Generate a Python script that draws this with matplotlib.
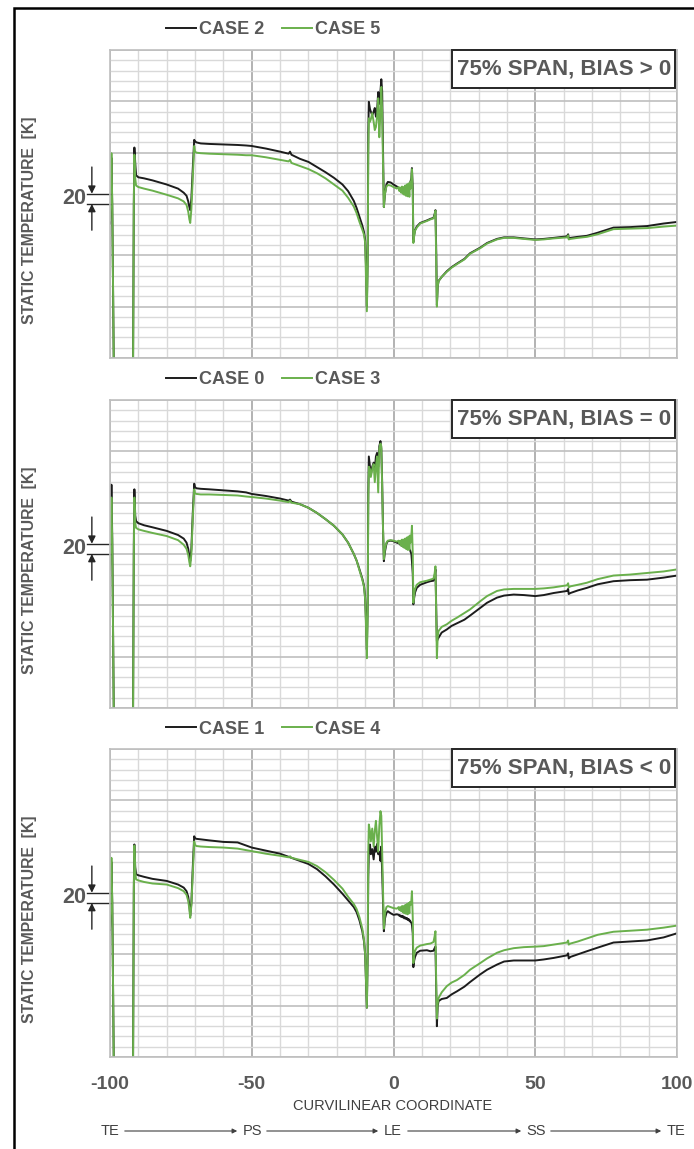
import matplotlib
matplotlib.use('Agg')
import matplotlib.pyplot as plt
from matplotlib.patches import Rectangle, FancyArrowPatch
from matplotlib.ticker import MultipleLocator

plt.rcParams['font.family'] = ['Liberation Sans', 'DejaVu Sans']

# curvilinear coordinate along the blade section (TE -> PS -> LE -> SS -> TE)
coord = [
    -100, -99.7, -99.5, -99.2, -98.6,
    -91.9, -91.6, -91.4, -91.1, -90.8, -90, -88, -85, -80, -76, -74, -73, -72.4,
    -72, -71.7, -71.3, -70.8, -70.3, -70, -69.5, -68,
    -65, -60, -55, -52, -50, -45, -40, -37, -36.5, -36, -33, -30,
    -27, -24, -21, -18, -16, -14, -13, -12, -11, -10.4, -10, -9.7, -9.4, -9.1,
    -8.9, -8.7, -8.3, -8.0, -7.5, -7.0, -6.6, -6.2, -5.8, -5.4, -5.0, -4.6, -4.3, -4.0,
    -3.7, -3.4, -3.0, -2.5, -2.0, -1.0, 0, 1.2, 1.8, 2.1, 2.4, 2.7, 3.0,
    3.3, 3.5, 3.8, 4.1, 4.4, 4.7, 5.0, 5.3, 5.6, 5.8, 6.0, 6.3, 6.5,
    6.8, 7.0, 7.3, 7.6, 8.2, 9.4, 11.8, 13, 14.1, 14.5, 14.8, 15.1,
    15.3, 15.6, 15.9, 17, 18.8, 20.5, 22.4, 25, 27, 30.6, 33, 36.5,
    39, 42.4, 46, 50, 53, 56.5, 61.2, 61.6, 61.8, 62.4, 65, 68.2,
    72, 77.6, 83.5, 89.4, 95.3, 100,
]

# static temperature, relative units (one minor division = 20 K)
case2 = [
    262, 320, 390, 295, -50,
    -50, 300, 410, 380, 356, 352, 350, 346, 338, 330, 322, 316, 305,
    294, 288, 310, 370, 425, 422, 420, 418,
    417, 416, 415, 414, 413, 408, 402, 398, 402, 396, 388, 382,
    372, 362, 351, 338, 325, 306, 292, 275, 258, 245, 230, 180, 100, 200,
    440, 499, 485, 480, 473, 480, 487, 470, 480, 518, 495, 520, 543, 520,
    400, 294, 320, 338, 343, 342, 338, 334, 332, 331, 331, 330, 330,
    331, 331, 332, 333, 334, 333, 335, 336, 338, 340, 344, 350, 370,
    330, 226, 240, 249, 256, 263, 268, 271, 273, 280, 288, 200,
    103, 140, 150, 158, 169, 177, 184, 193, 204, 215, 224, 232,
    235, 235, 233, 231, 232, 234, 237, 241, 233, 234, 236, 238,
    244, 254, 255, 257, 262, 265,
]
case5 = [
    268, 330, 399, 300, -50,
    -50, 300, 396, 350, 336, 333, 330, 326, 318, 311, 305, 298, 285,
    270, 263, 290, 350, 413, 402, 400, 399,
    398, 397, 396, 395, 395, 391, 386, 383, 386, 380, 374, 368,
    360, 350, 338, 326, 312, 295, 282, 265, 250, 240, 225, 160, 91, 180,
    400, 467, 460, 465, 477, 460, 444, 450, 470, 506, 430, 480, 528, 480,
    380, 294, 320, 334, 337, 336, 333, 330, 333, 325, 332, 322, 334,
    320, 333, 318, 336, 316, 338, 315, 340, 314, 342, 330, 350, 368,
    320, 224, 238, 248, 254, 262, 267, 270, 272, 278, 287, 180,
    100, 140, 150, 158, 168, 176, 183, 192, 203, 214, 223, 231,
    234, 234, 232, 230, 231, 233, 235, 239, 231, 232, 234, 236,
    241, 251, 252, 253, 256, 258,
]
case0 = [
    273, 360, 435, 330, -50,
    -50, 320, 426, 375, 364, 360, 356, 352, 345, 337, 330, 322, 310,
    295, 286, 310, 380, 437, 430, 428, 427,
    426, 424, 422, 420, 417, 413, 408, 404, 406, 402, 397, 390,
    380, 368, 355, 338, 322, 300, 287, 270, 252, 238, 215, 170, 114, 200,
    420, 490, 470, 455, 470, 478, 465, 490, 497, 470, 510, 520, 505, 440,
    350, 286, 305, 320, 325, 326, 325, 322, 321, 320, 318, 317, 316,
    315, 315, 314, 313, 312, 312, 311, 310, 309, 308, 305, 300, 286,
    260, 202, 215, 225, 234, 240, 245, 247, 248, 255, 270, 180,
    130, 134, 137, 147, 153, 160, 165, 172, 180, 195, 205, 215,
    219, 221, 220, 218, 220, 224, 228, 232, 222, 224, 229, 234,
    241, 247, 249, 250, 254, 258,
]
case3 = [
    270, 340, 410, 320, -50,
    -50, 300, 410, 360, 351, 348, 345, 341, 335, 327, 318, 310, 298,
    284, 276, 300, 370, 426, 418, 417, 416,
    416, 415, 414, 412, 411, 408, 404, 401, 404, 400, 397, 390,
    380, 368, 355, 338, 322, 300, 287, 268, 250, 236, 212, 160, 97, 180,
    400, 470, 465, 450, 465, 475, 440, 470, 490, 420, 505, 515, 510, 430,
    350, 290, 310, 322, 326, 327, 326, 324, 326, 320, 326, 316, 328,
    314, 328, 312, 330, 310, 332, 308, 334, 308, 336, 322, 335, 355,
    300, 205, 222, 232, 240, 245, 248, 250, 252, 262, 276, 160,
    97, 140, 150, 158, 163, 170, 176, 185, 192, 208, 218, 228,
    231, 232, 232, 232, 233, 235, 239, 243, 235, 237, 240, 244,
    251, 258, 260, 263, 266, 270,
]
case1 = [
    248, 300, 380, 300, -50,
    -50, 330, 414, 370, 356, 354, 351, 347, 343, 336, 330, 323, 312,
    295, 275, 300, 370, 430, 426, 425, 424,
    422, 419, 418, 412, 408, 402, 396, 390, 389, 388, 382, 376,
    366, 352, 336, 318, 305, 292, 282, 266, 245, 225, 200, 150, 96, 200,
    350, 401, 414, 395, 405, 385, 410, 400, 415, 395, 400, 382, 410, 360,
    300, 245, 270, 281, 284, 280, 277, 278, 277, 275, 276, 273, 275,
    272, 274, 270, 272, 269, 271, 267, 269, 265, 266, 263, 262, 258,
    240, 175, 188, 195, 203, 207, 208, 206, 207, 212, 215, 120,
    60, 100, 109, 113, 115, 122, 128, 137, 146, 161, 170, 180,
    186, 188, 188, 188, 190, 193, 198, 202, 192, 195, 200, 206,
    213, 223, 225, 227, 233, 241,
]
case4 = [
    250, 320, 388, 300, -50,
    -50, 320, 412, 360, 346, 344, 341, 338, 336, 329, 323, 316, 304,
    288, 271, 295, 360, 420, 413, 411, 410,
    409, 408, 406, 403, 401, 396, 392, 389, 391, 388, 384, 380,
    372, 360, 345, 328, 312, 298, 288, 272, 250, 228, 200, 150, 96, 200,
    400, 453, 440, 420, 445, 410, 440, 460, 430, 400, 450, 479, 470, 400,
    320, 250, 280, 292, 294, 292, 290, 289, 292, 286, 292, 284, 294,
    282, 294, 280, 296, 279, 298, 278, 300, 280, 302, 296, 305, 323,
    270, 183, 198, 207, 213, 217, 220, 221, 224, 235, 245, 130,
    75, 105, 115, 126, 138, 145, 150, 160, 170, 183, 192, 203,
    208, 212, 214, 215, 216, 219, 223, 227, 219, 221, 225, 231,
    238, 244, 246, 248, 252, 256,
]

black_names = ['CASE 2', 'CASE 0', 'CASE 1']
green_names = ['CASE 5', 'CASE 3', 'CASE 4']
black_series = [case2, case0, case1]
green_series = [case5, case3, case4]
titles = ['75% SPAN, BIAS > 0', '75% SPAN, BIAS = 0', '75% SPAN, BIAS < 0']

x_ticks = [-100, -50, 0, 50, 100]
x_tick_labels = ['-100', '-50', '0', '50', '100']
stations = ['TE', 'PS', 'LE', 'SS', 'TE']

GREY = '#595959'
DARK = '#262626'
BLACK = '#1c1c1c'
GREEN = '#6ab04c'

W, H = 694, 1149
fig = plt.figure(figsize=(W / 100, H / 100), dpi=100)


def fx(px):
    return px / W


def fy(py):
    return 1 - py / H


left, right = 110, 677
tops = [50, 400, 749]
height = 308

axes = []
for i, top in enumerate(tops):
    ax = fig.add_axes([fx(left), fy(top + height), (right - left) / W, height / H])
    axes.append(ax)

    l1, = ax.plot(coord, black_series[i], color=BLACK, lw=1.4)
    l2, = ax.plot(coord, green_series[i], color=GREEN, lw=1.4)

    ax.set_xlim(-100, 100)
    ax.set_ylim(0, 600)
    ax.xaxis.set_major_locator(MultipleLocator(50))
    ax.xaxis.set_minor_locator(MultipleLocator(10))
    ax.yaxis.set_major_locator(MultipleLocator(100))
    ax.yaxis.set_minor_locator(MultipleLocator(20))
    ax.grid(True, which='minor', color='#d9d9d9', lw=1.0)
    ax.grid(True, which='major', axis='y', color='#bfbfbf', lw=1.2)
    ax.grid(True, which='major', axis='x', color='#a6a6a6', lw=1.2)
    ax.set_axisbelow(True)
    ax.tick_params(which='both', length=0, labelleft=False, labelbottom=False)
    for sp in ax.spines.values():
        sp.set_color('#bfbfbf')
        sp.set_linewidth(1.2)

    # legend above each panel
    leg = fig.legend([l1, l2], [black_names[i], green_names[i]], loc='center',
                     bbox_to_anchor=(fx(273), fy(top - 20)), ncol=2, frameon=False,
                     handlelength=1.7, handletextpad=0.15, columnspacing=0.95,
                     prop={'weight': 'bold', 'size': 13})
    for t in leg.get_texts():
        t.set_color(GREY)

    # case label box in the upper right corner
    bx0 = (452 - left) / (right - left)
    ax.add_patch(Rectangle((bx0, 1 - 38 / height), 1 - bx0 - 0.003, 38 / height,
                           transform=ax.transAxes, fc='white', ec=DARK, lw=1.4,
                           zorder=5, clip_on=False))
    ax.text((bx0 + 1) / 2, 1 - 19 / height, titles[i], transform=ax.transAxes,
            ha='center', va='center', fontsize=16, fontweight='bold', color=GREY,
            zorder=6)

    # 20 K scale marker on the left
    for yv in (300, 320):
        ax.plot([-108.2, -100], [yv, yv], color=DARK, lw=1.0, clip_on=False)
    arrow = dict(arrowstyle='-|>', color=DARK, lw=1.0, mutation_scale=11,
                 shrinkA=0, shrinkB=0)
    ax.annotate('', xy=(-106.4, 320), xytext=(-106.4, 372), arrowprops=arrow,
                annotation_clip=False)
    ax.annotate('', xy=(-106.4, 300), xytext=(-106.4, 249), arrowprops=arrow,
                annotation_clip=False)
    ax.text(-108.4, 310, '20', ha='right', va='center', fontsize=15.5,
            fontweight='bold', color=GREY)

    fig.text(fx(30), fy(top + height / 2 + 16), 'STATIC TEMPERATURE  [K]',
             rotation=90, ha='center', va='center', fontsize=11.3,
             fontweight='bold', color=GREY)

bottom_ax = axes[-1]
bottom_ax.set_xticks(x_ticks)
bottom_ax.set_xticklabels(x_tick_labels)
bottom_ax.tick_params(axis='x', labelbottom=True, pad=14, labelsize=14,
                      labelcolor=GREY)
for t in bottom_ax.get_xticklabels():
    t.set_fontweight('bold')

fig.text(fx(393), fy(1106), 'CURVILINEAR COORDINATE', ha='center', va='center',
         fontsize=10.5, color='#404040')

station_px = [110, 252, 393, 536, 676]
for px, name in zip(station_px, stations):
    fig.text(fx(px), fy(1131), name, ha='center', va='center', fontsize=10.5,
             color='#404040')
for a, b in zip(station_px[:-1], station_px[1:]):
    fig.add_artist(FancyArrowPatch(
        (fx(a + 12), fy(1131)), (fx(b - 12), fy(1131)), transform=fig.transFigure,
        arrowstyle='-|>', mutation_scale=7, color='#404040', lw=0.8))

# outer frame
fig.add_artist(Rectangle((fx(14), fy(H + 10)), fx(W + 10 - 14), (H + 2) / H,
                         transform=fig.transFigure, fill=False, ec='black', lw=1.8))

fig.savefig('out.png', dpi=100)
